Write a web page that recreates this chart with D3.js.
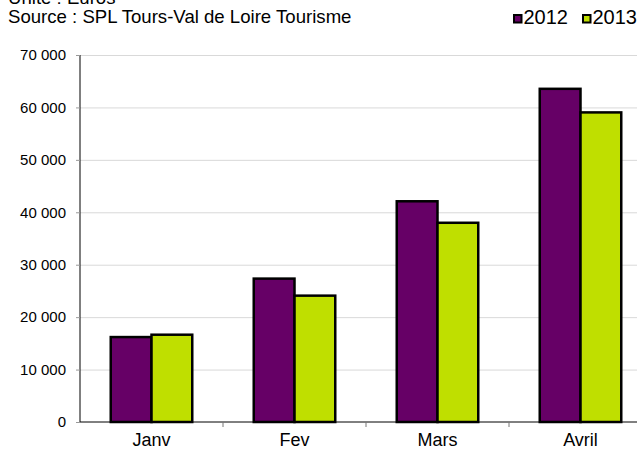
<!DOCTYPE html>
<html>
<head>
<meta charset="utf-8">
<script src="https://cdn.jsdelivr.net/npm/d3@7"></script>
<style>
  body { margin: 0; background: #fff; }
  svg { display: block; font-family: "Liberation Sans", Arial, sans-serif; }
  .grid line { stroke: #d9d9d9; stroke-width: 1; }
  .grid .domain { display: none; }
  .bar { stroke: #000; stroke-width: 2.5; }
</style>
</head>
<body>
<svg id="chart" width="637" height="450"></svg>
<script>
"use strict";

var months = ["Janv", "Fev", "Mars", "Avril"];
var years = ["2012", "2013"];
var values2012 = [16200, 27350, 42100, 63550];
var values2013 = [16650, 24100, 38000, 59050];
var yTicks = [0, 10000, 20000, 30000, 40000, 50000, 60000, 70000];
var colors = ["#660066", "#bfdf00"];

var rows = months.map(function(m, i) {
  return { month: m, values: [values2012[i], values2013[i]] };
});

var svg = d3.select("#chart");

var plotLeft = 80, plotRight = 652, plotTop = 55, plotBottom = 422;

var x0 = d3.scaleBand().domain(months).range([plotLeft, plotRight]);
var x1 = d3.scaleBand().domain(years)
  .range([x0.bandwidth() * 0.215, x0.bandwidth() * 0.785]);
var y = d3.scaleLinear().domain([0, 70000]).range([plotBottom, plotTop]);

var fr = d3.formatLocale({ decimal: ",", thousands: " ", grouping: [3], currency: ["", " €"] });
var fmt = fr.format(",d");

// grid lines
svg.append("g")
  .attr("class", "grid")
  .attr("transform", "translate(" + plotLeft + ",0)")
  .call(d3.axisRight(y).tickValues(yTicks.slice(1)).tickSize(plotRight - plotLeft).tickFormat(""));

// y axis
var yAxis = svg.append("g")
  .attr("transform", "translate(" + plotLeft + ",0)")
  .call(d3.axisLeft(y).tickValues(yTicks).tickSize(4).tickPadding(10).tickFormat(fmt));
yAxis.select(".domain").attr("stroke", "#000").attr("d", "M0," + plotTop + "V" + plotBottom);
yAxis.selectAll(".tick line").attr("stroke", "#999");
yAxis.selectAll("text").attr("font-size", 15).attr("fill", "#000")
  .attr("font-family", "Liberation Sans, Arial, sans-serif");

// bars
var groups = svg.selectAll(".group")
  .data(rows)
  .enter().append("g")
    .attr("class", "group")
    .attr("transform", function(d) { return "translate(" + x0(d.month) + ",0)"; });

groups.selectAll("rect")
  .data(function(d) { return d.values.map(function(v, i) { return { year: years[i], value: v, i: i }; }); })
  .enter().append("rect")
    .attr("class", "bar")
    .attr("x", function(d) { return x1(d.year); })
    .attr("width", x1.bandwidth())
    .attr("y", function(d) { return y(d.value); })
    .attr("height", function(d) { return plotBottom - y(d.value); })
    .attr("fill", function(d) { return colors[d.i]; });

// x axis
var xAxis = svg.append("g")
  .attr("transform", "translate(0," + plotBottom + ")")
  .call(d3.axisBottom(x0).tickSize(0).tickPadding(11));
xAxis.select(".domain").attr("stroke", "#000").attr("d", "M" + plotLeft + ",0H" + plotRight);
xAxis.selectAll("text").attr("font-size", 18).attr("fill", "#000")
  .attr("font-family", "Liberation Sans, Arial, sans-serif");

// category separators
xAxis.selectAll(".sep")
  .data(months.slice(1))
  .enter().append("line")
    .attr("class", "sep")
    .attr("x1", function(d) { return x0(d); })
    .attr("x2", function(d) { return x0(d); })
    .attr("y1", 0).attr("y2", 5)
    .attr("stroke", "#777");

// header text
svg.append("text").attr("x", 8).attr("y", 3.5).attr("font-size", 18.6).text("Unité : Euros");
svg.append("text").attr("x", 8).attr("y", 22.5).attr("font-size", 18.6).text("Source : SPL Tours-Val de Loire Tourisme");

// legend
var legend = svg.selectAll(".legend")
  .data(years)
  .enter().append("g")
    .attr("class", "legend")
    .attr("transform", function(d, i) { return "translate(" + (513 + i * 69) + ",14)"; });

legend.append("rect")
  .attr("x", 1).attr("y", 1)
  .attr("width", 7.5).attr("height", 7.5)
  .attr("fill", function(d, i) { return colors[i]; })
  .attr("stroke", "#000").attr("stroke-width", 2);

legend.append("text")
  .attr("x", 10.5).attr("y", 10)
  .attr("font-size", 20)
  .text(function(d) { return d; });
</script>
</body>
</html>
